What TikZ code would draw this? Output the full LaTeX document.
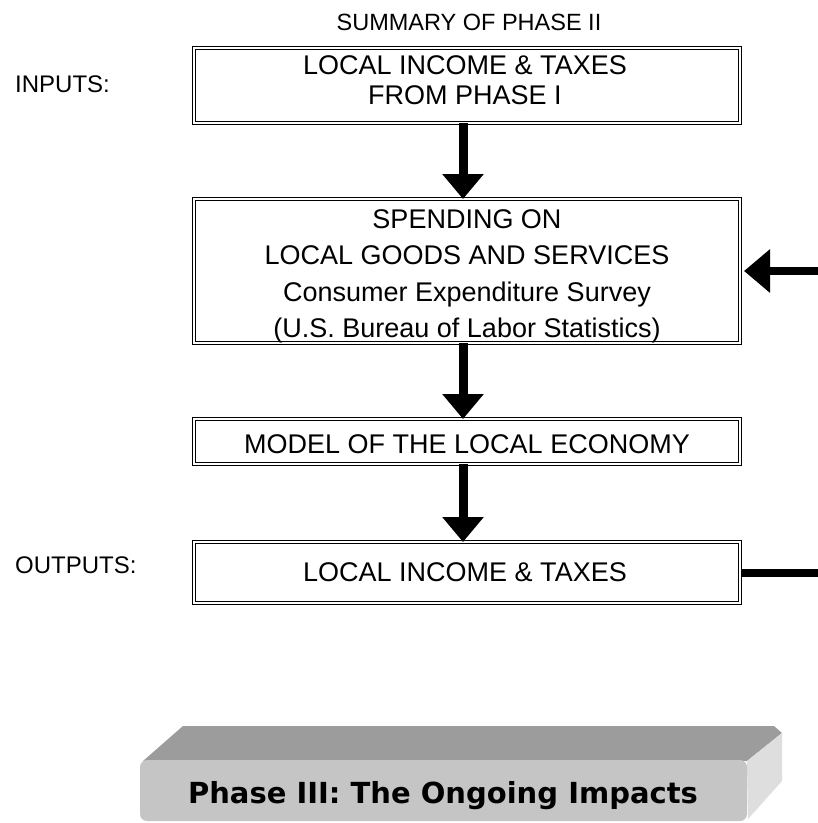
\documentclass[tikz,border=0pt]{standalone}
\usepackage{fontspec}
\setmainfont{Liberation Sans}
\newfontfamily\phasefont{DejaVu Sans}
\usetikzlibrary{arrows.meta}
\definecolor{topface}{RGB}{156,156,156}
\definecolor{frontface}{RGB}{197,197,197}
\definecolor{sideface}{RGB}{222,222,222}
\begin{document}
\begin{tikzpicture}[x=1pt,y=-1pt,
  dbox/.style={draw, double, double distance=2.2pt, line width=0.9pt, inner sep=0pt, outer sep=0pt, minimum width=546pt},
  boxtext/.style={anchor=base, inner sep=0pt, font=\fontsize{27}{30}\selectfont},
  lbl/.style={anchor=base west, inner sep=0pt, font=\fontsize{24}{28}\selectfont},
  bigarrow/.style={line width=9pt, -{Triangle[width=40pt,length=25pt]}},
  sidearrow/.style={line width=8pt, -{Triangle[width=42pt,length=26pt]}},
]
\fill[white] (0,0) rectangle (818,823);
\useasboundingbox (0,0) rectangle (818,823);

% title and labels
\node[anchor=base, inner sep=0pt, font=\fontsize{23.5}{28}\selectfont] (title) at (469,30) {SUMMARY OF PHASE II};
\node[lbl] (inputs) at (15,92) {INPUTS:};
\node[lbl] (outputs) at (15,573) {OUTPUTS:};

% boxes
\node[dbox, minimum height=75pt] (b1) at (467,85.5) {};
\node[dbox, minimum height=144pt] (b2) at (467,271) {};
\node[dbox, minimum height=45pt] (b3) at (467,441.5) {};
\node[dbox, minimum height=61pt] (b4) at (467,572.5) {};

% box texts
\node[boxtext] (t1a) at (465,74) {LOCAL INCOME \& TAXES};
\node[boxtext] (t1b) at (465,104) {FROM PHASE I};
\node[boxtext] (t2a) at (467,228) {SPENDING ON};
\node[boxtext] (t2b) at (467,264.5) {LOCAL GOODS AND SERVICES};
\node[boxtext] (t2c) at (467,301) {Consumer Expenditure Survey};
\node[boxtext] (t2d) at (467,337.5) {(U.S. Bureau of Labor Statistics)};
\node[boxtext] (t3) at (467,453) {MODEL OF THE LOCAL ECONOMY};
\node[boxtext] (t4) at (465,581) {LOCAL INCOME \& TAXES};

% connectors
\draw[bigarrow] ([xshift=-4pt]b1.south) -- ([xshift=-4pt]b2.north);
\draw[bigarrow] ([xshift=-4pt]b2.south) -- ([xshift=-4pt]b3.north);
\draw[bigarrow] ([xshift=-4pt]b3.south) -- ([xshift=-4pt]b4.north);
\coordinate (r1) at (818,271);
\draw[sidearrow] (r1) -- ([xshift=4pt]b2.east);
\coordinate (r2) at (818,574);
\draw[line width=8pt] ([xshift=2pt]b4.east) -- (b4.east -| r2);

% Phase III bevel block
\fill[topface] (183,726) -- (774,726) -- (782,733) -- (747,761) -- (143,761) -- cycle;
\fill[sideface] (782,733) -- (782,781) -- (748,819) -- (747,761) -- cycle;
\fill[frontface, rounded corners=7pt] (140,760) rectangle (747,821);
\node[anchor=base, inner sep=0pt, font=\phasefont\bfseries\fontsize{29}{34}\selectfont] (p3) at (443,803) {Phase III: The Ongoing Impacts};
\end{tikzpicture}
\end{document}
